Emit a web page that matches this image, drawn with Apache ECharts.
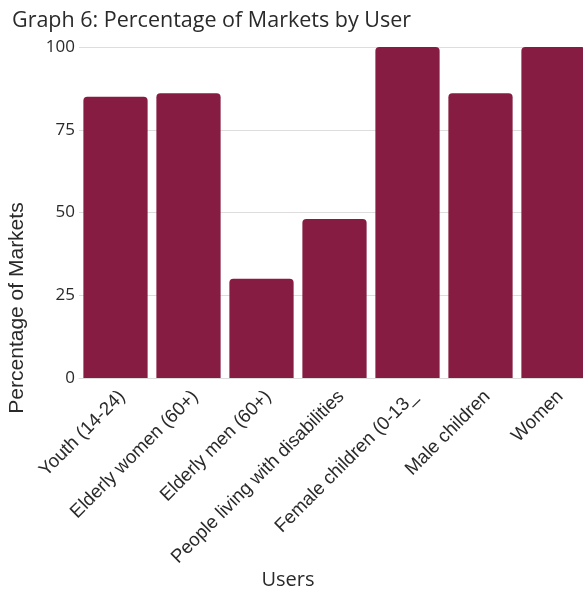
<!DOCTYPE html>
<html>
<head>
<meta charset="utf-8">
<script src="https://cdn.jsdelivr.net/npm/echarts@6/dist/echarts.min.js"></script>
<style>
  html, body { margin: 0; padding: 0; background: #fff; }
  #chart { width: 583px; height: 589px; }
</style>
</head>
<body>
<div id="chart"></div>
<script>
// Market users and share of markets serving each group (%)
const categories = [
  'Youth (14-24)',
  'Elderly women (60+)',
  'Elderly men (60+)',
  'People living with disabilities',
  'Female children (0-13_',
  'Male children',
  'Women'
];
const percentages = [85, 86, 30, 48, 100, 86, 100];
const yTicks = [0, 25, 50, 75, 100];

const barColor = '#861c42';
const chart = echarts.init(document.getElementById('chart'), null, { renderer: 'canvas' });

chart.setOption({
  animation: false,
  backgroundColor: '#ffffff',
  title: {
    text: 'Graph 6: Percentage of Markets by User',
    left: 7,
    top: 5,
    textStyle: {
      fontFamily: 'Open Sans',
      fontSize: 21.5,
      fontWeight: 'normal',
      color: '#2a2a2a'
    }
  },
  grid: {
    left: 79, width: 511, top: 47, height: 331,
    containLabel: false,
    outerBoundsMode: 'none'
  },
  xAxis: {
    type: 'category',
    data: categories,
    axisLine: { show: true, lineStyle: { color: '#dddddd', width: 1 } },
    axisTick: { show: false },
    axisLabel: {
      interval: 0,
      rotate: 45,
      margin: 9,
      verticalAlign: 'top',
      fontFamily: 'Liberation Sans',
      fontSize: 18.7,
      color: '#2a2a2a'
    }
  },
  yAxis: {
    type: 'value',
    min: yTicks[0],
    max: yTicks[yTicks.length - 1],
    interval: 25,
    axisLine: { show: false },
    axisTick: { show: false },
    splitLine: { lineStyle: { color: '#dddddd', width: 1 } },
    axisLabel: {
      margin: 4,
      fontFamily: 'Open Sans',
      fontSize: 17,
      color: '#2a2a2a'
    }
  },
  series: [{
    type: 'bar',
    data: percentages,
    barCategoryGap: '12%',
    itemStyle: { color: barColor, borderRadius: [4, 4, 0, 0] }
  }],
  graphic: [
    {
      type: 'text',
      x: 7,
      y: 308,
      rotation: Math.PI / 2,
      style: {
        text: 'Percentage of Markets',
        font: '21px "Liberation Sans"',
        fill: '#2a2a2a',
        align: 'center',
        verticalAlign: 'top'
      }
    },
    {
      type: 'text',
      x: 288,
      y: 580,
      style: {
        text: 'Users',
        font: '20px "Open Sans"',
        fill: '#2a2a2a',
        align: 'center',
        verticalAlign: 'middle'
      }
    }
  ]
});
</script>
</body>
</html>
